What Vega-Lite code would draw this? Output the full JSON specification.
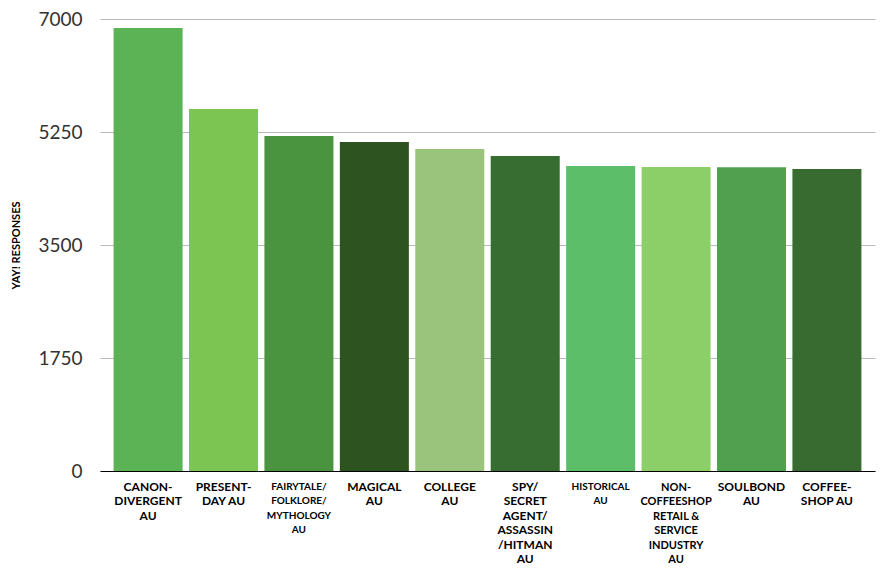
{
  "$schema": "https://vega.github.io/schema/vega-lite/v6.json",
  "width": 775,
  "height": 452,
  "autosize": "none",
  "padding": {"left": 100, "top": 19, "right": 11, "bottom": 100},
  "background": "white",
  "config": {"view": {"stroke": null}, "font": "Lato"},
  "data": {
    "values": [
      {"category": "CANON-|DIVERGENT|AU", "responses": 6860, "color": "#5bb356"},
      {"category": "PRESENT-|DAY AU", "responses": 5606, "color": "#7dc553"},
      {"category": "FAIRYTALE/|FOLKLORE/|MYTHOLOGY|AU", "responses": 5188, "color": "#4a9440"},
      {"category": "MAGICAL|AU", "responses": 5095, "color": "#2d5321"},
      {"category": "COLLEGE|AU", "responses": 4987, "color": "#9ac47c"},
      {"category": "SPY/|SECRET|AGENT/|ASSASSIN|/HITMAN|AU", "responses": 4878, "color": "#376d30"},
      {"category": "HISTORICAL|AU", "responses": 4723, "color": "#5cbe68"},
      {"category": "NON-|COFFEESHOP|RETAIL &|SERVICE|INDUSTRY|AU", "responses": 4708, "color": "#8cce68"},
      {"category": "SOULBOND|AU", "responses": 4705, "color": "#50a050"},
      {"category": "COFFEE-|SHOP AU", "responses": 4677, "color": "#376b2f"}
    ]
  },
  "mark": {"type": "bar"},
  "encoding": {
    "x": {
      "field": "category",
      "type": "nominal",
      "sort": null,
      "scale": {"paddingInner": 0.085, "paddingOuter": 0.18},
      "axis": {
        "title": null,
        "labelAngle": 0,
        "labelExpr": "split(datum.value, '|')",
        "labelFont": "Lato",
        "labelFontWeight": "bold",
        "labelFontSize": {"expr": "indexof(datum.value, 'FAIRYTALE') >= 0 || indexof(datum.value, 'HISTORICAL') >= 0 ? 10 : indexof(datum.value, 'COFFEESHOP') >= 0 ? 11 : 12"},
        "labelColor": "#000000",
        "labelLineHeight": 14.5,
        "labelBaseline": "top",
        "labelPadding": 10,
        "labelLimit": 0,
        "ticks": false,
        "domainColor": "#000000",
        "domainWidth": 1
      }
    },
    "y": {
      "field": "responses",
      "type": "quantitative",
      "scale": {"domain": [0, 7000]},
      "axis": {
        "title": "YAY! RESPONSES",
        "titleFont": "Lato",
        "titleFontWeight": "bold",
        "titleFontSize": 11,
        "titleColor": "#000000",
        "titlePadding": 16,
        "values": [0, 1750, 3500, 5250, 7000],
        "format": "d",
        "labelFont": "Lato",
        "labelFontSize": 19,
        "labelColor": "#333333",
        "labelPadding": 18,
        "ticks": false,
        "domain": false,
        "grid": true,
        "gridColor": "#bbbbbb",
        "gridWidth": 1
      }
    },
    "color": {"field": "color", "type": "nominal", "scale": null, "legend": null}
  }
}
